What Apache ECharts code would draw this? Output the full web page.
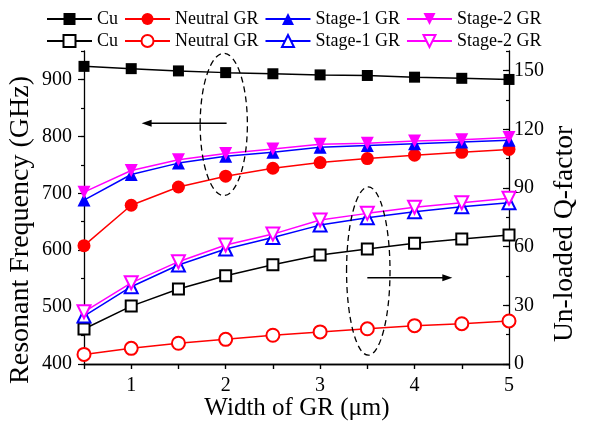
<!DOCTYPE html>
<html>
<head>
<meta charset="utf-8">
<script src="https://cdn.jsdelivr.net/npm/echarts@6/dist/echarts.min.js"></script>
<style>html,body{margin:0;padding:0;background:#fff}#c{width:590px;height:425px}</style>
</head>
<body>
<div id="c"></div>
<script>
// ---- data ----
const widths = [0.5, 1, 1.5, 2, 2.5, 3, 3.5, 4, 4.5, 5];
// resonant frequency (GHz), left axis (filled symbols)
const cuFreq      = [923, 919, 915, 912, 910, 908, 907, 904, 902, 900];
const neutralFreq = [608, 679, 711, 730, 744, 754, 761, 767, 772, 777];
const stage1Freq  = [688, 733, 753, 765, 772, 781, 784, 787, 790, 793];
const stage2Freq  = [702, 740, 759, 770, 778, 786, 788, 792, 794, 798];
// un-loaded Q-factor, right axis (hollow symbols)
const cuQ      = [17.9, 29.6, 38.3, 45.1, 50.7, 55.7, 58.8, 61.7, 63.9, 65.9];
const neutralQ = [4.9, 8.0, 10.6, 12.6, 14.7, 16.4, 18.0, 19.6, 20.6, 22.0];
const stage1Q  = [24.5, 39.5, 50.6, 58.8, 64.7, 71.0, 74.8, 77.8, 80.4, 82.4];
const stage2Q  = [26.7, 41.5, 52.3, 60.8, 66.4, 73.6, 77.0, 80.1, 82.4, 84.7];
const seriesNames = ['Cu', 'Neutral GR', 'Stage-1 GR', 'Stage-2 GR'];
const hollowSuffix = '\u200b';
const xTitle = 'Width of GR (\u03bcm)';
const yLeftTitle = 'Resonant Frequency (GHz)';
const yRightTitle = 'Un-loaded Q-factor';

const FONT = 'Liberation Serif';
const colors = ['#000000', '#ff0000', '#0000ff', '#ff00ff'];
const filledSymbols = ['rect', 'circle', 'triangle', 'triangle'];
const hollowSymbols = ['emptyRect', 'emptyCircle', 'emptyTriangle', 'emptyTriangle'];
const rotates = [0, 0, 0, 180];
const freqSets = [cuFreq, neutralFreq, stage1Freq, stage2Freq];
const qSets = [cuQ, neutralQ, stage1Q, stage2Q];

const pts = arr => widths.map((w, i) => [w, arr[i]]);

const series = [];
for (let k = 0; k < 4; k++) {
  series.push({
    name: seriesNames[k], type: 'line', xAxisIndex: 0, yAxisIndex: 0,
    data: pts(freqSets[k]), symbol: filledSymbols[k], symbolRotate: rotates[k],
    symbolSize: k === 0 ? 11 : 13,
    lineStyle: {color: colors[k], width: 1.5},
    itemStyle: {color: colors[k]}, z: 3 + k
  });
}
for (let k = 0; k < 4; k++) {
  series.push({
    name: seriesNames[k] + hollowSuffix, type: 'line', xAxisIndex: 0, yAxisIndex: 1,
    data: pts(qSets[k]), symbol: hollowSymbols[k], symbolRotate: rotates[k],
    symbolSize: k === 0 ? 11 : 13,
    lineStyle: {color: colors[k], width: 1.5},
    itemStyle: {color: colors[k], borderWidth: 1.5}, z: 3 + k
  });
}

const tickLabel = {color: '#000', fontFamily: FONT, fontSize: 20};
const legendBase = {
  left: 41, itemWidth: 45, itemHeight: 15, itemGap: 6,
  textStyle: {fontFamily: FONT, fontSize: 18, color: '#000', padding: [0, 0, 0, 0]},
  formatter: n => n.replace(hollowSuffix, ''), selectedMode: false
};

const chart = echarts.init(document.getElementById('c'), null, {renderer: 'canvas'});
chart.setOption({
  animation: false,
  backgroundColor: '#fff',
  legend: [
    Object.assign({}, legendBase, {top: 5, data: seriesNames.slice()}),
    Object.assign({}, legendBase, {top: 27, data: seriesNames.map(n => n + hollowSuffix)})
  ],
  grid: {left: 84, right: 81, top: 51, bottom: 61, containLabel: false},
  xAxis: [
    {type: 'value', position: 'bottom', min: 0.5, max: 5, interval: 0.5,
     axisLine: {show: true, lineStyle: {color: '#000', width: 1.3}},
     axisTick: {show: true, inside: false, length: 5, lineStyle: {color: '#000', width: 1.2}},
     axisLabel: Object.assign({}, tickLabel, {margin: 12, formatter: v => Number.isInteger(v) ? String(v) : ''}),
     splitLine: {show: false}},
    {type: 'value', position: 'top', min: 0.5, max: 5, interval: 0.5,
     axisLine: {show: true, lineStyle: {color: '#000', width: 1.3}},
     axisTick: {show: true, inside: true, length: 5, lineStyle: {color: '#000', width: 1.2}},
     axisLabel: {show: false}, splitLine: {show: false}}
  ],
  yAxis: [
    {type: 'value', position: 'left', min: 400, max: 950, interval: 100,
     axisLine: {show: true, lineStyle: {color: '#000', width: 1.3}},
     axisTick: {show: true, inside: false, length: 6, lineStyle: {color: '#000', width: 1.2}},
     axisLabel: Object.assign({}, tickLabel, {margin: 12, showMaxLabel: false}),
     splitLine: {show: false}},
    {type: 'value', position: 'right', min: 0, max: 160, interval: 30,
     axisLine: {show: true, lineStyle: {color: '#000', width: 1.3}},
     axisTick: {show: true, inside: true, length: 6, lineStyle: {color: '#000', width: 1.2}},
     axisLabel: Object.assign({}, tickLabel, {margin: 5, showMaxLabel: false}),
     splitLine: {show: false}},
    // minor ticks
    {type: 'value', position: 'left', min: 400, max: 950, interval: 50,
     axisLine: {show: false}, axisLabel: {show: false}, splitLine: {show: false},
     axisTick: {show: true, inside: false, length: 3, lineStyle: {color: '#000', width: 1.2}}},
    {type: 'value', position: 'right', min: 0, max: 160, interval: 15,
     axisLine: {show: false}, axisLabel: {show: false}, splitLine: {show: false},
     axisTick: {show: true, inside: true, length: 3, lineStyle: {color: '#000', width: 1.2}}}
  ],
  series: series
});

// ---- annotations (placed in data coordinates) ----
const L = p => chart.convertToPixel({xAxisIndex: 0, yAxisIndex: 0}, p);
const R = p => chart.convertToPixel({xAxisIndex: 0, yAxisIndex: 1}, p);
function ellipse(c, top) {
  return {type: 'ellipse', silent: true, z: 20,
    shape: {cx: c[0], cy: c[1], rx: top.rx, ry: top.ry},
    style: {fill: null, stroke: '#000', lineWidth: 1.3, lineDash: [6, 4]}};
}
function arrow(a, b) {
  const dx = b[0] - a[0], dir = dx > 0 ? 1 : -1, hl = 10, hw = 3.5;
  return [
    {type: 'line', silent: true, z: 20, shape: {x1: a[0], y1: a[1], x2: b[0] - dir * hl * 0.8, y2: b[1]},
     style: {stroke: '#000', lineWidth: 1.4}},
    {type: 'polygon', silent: true, z: 20,
     shape: {points: [[b[0], b[1]], [b[0] - dir * hl, b[1] - hw], [b[0] - dir * hl, b[1] + hw]]},
     style: {fill: '#000'}}
  ];
}
const e1c = L([1.98, 821]), e1t = L([1.98, 946]), e1r = L([2.23, 821]);
const e2c = R([3.51, 47.5]), e2t = R([3.51, 90.5]), e2r = R([3.74, 47.5]);
const graphics = [
  ellipse(e1c, {rx: e1r[0] - e1c[0], ry: e1c[1] - e1t[1]}),
  ellipse(e2c, {rx: e2r[0] - e2c[0], ry: e2c[1] - e2t[1]}),
  ...arrow(L([2.01, 823]), L([1.11, 823])),
  ...arrow(R([3.5, 44.1]), R([4.4, 44.1])),
  {type: 'text', silent: true, x: 297, y: 408, z: 30,
   style: {text: xTitle, font: '25px "' + FONT + '"', fill: '#000', align: 'center', verticalAlign: 'middle'}},
  {type: 'text', silent: true, x: 21, y: 230, rotation: Math.PI / 2, z: 30,
   style: {text: yLeftTitle, font: '28px "' + FONT + '"', fill: '#000', align: 'center', verticalAlign: 'middle'}},
  {type: 'text', silent: true, x: 565, y: 234, rotation: Math.PI / 2, z: 30,
   style: {text: yRightTitle, font: '27.5px "' + FONT + '"', fill: '#000', align: 'center', verticalAlign: 'middle'}}
];
chart.setOption({graphic: graphics});
</script>
</body>
</html>
